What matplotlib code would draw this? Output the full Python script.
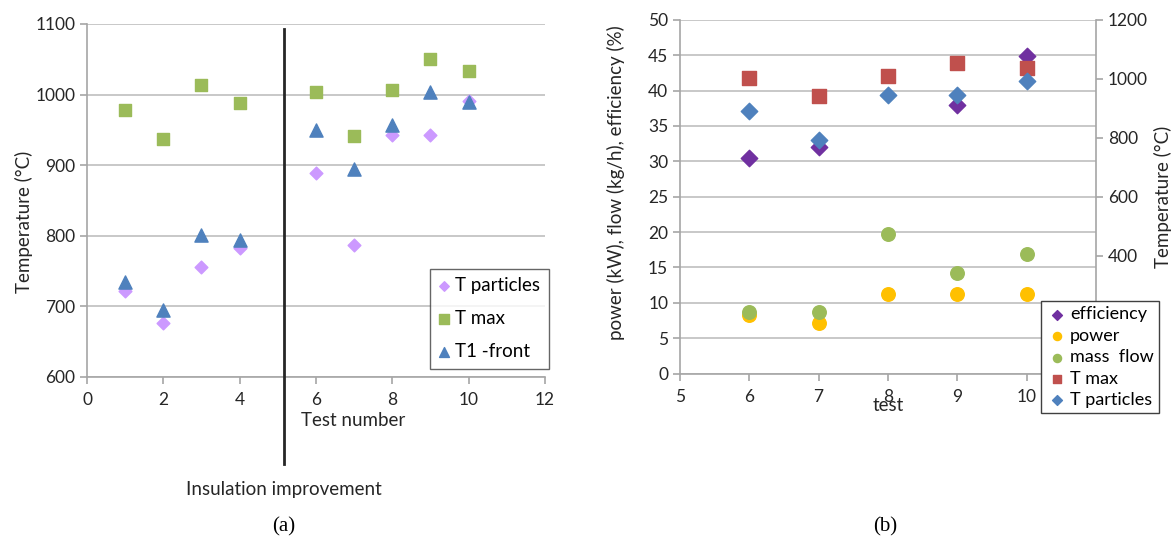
import numpy as np
import matplotlib.pyplot as plt

plt.rcParams['font.family'] = ['Lato', 'DejaVu Sans']

# (a) 温度 vs 试验编号
tests_a = [1, 2, 3, 4, 6, 7, 8, 9, 10]
t_particles = [722, 677, 756, 783, 889, 787, 943, 943, 991]
t_max = [978, 937, 1013, 988, 1003, 942, 1006, 1050, 1033]
t1_front = [735, 695, 801, 794, 950, 894, 957, 1003, 990]

# (b) 试验 6-10
tests_b = [6, 7, 8, 9, 10]
efficiency = [30.4, 32.0, np.nan, 37.9, 44.9]
power = [8.3, 7.1, 11.3, 11.3, 11.3]
mass_flow = [8.7, 8.7, 19.7, 14.2, 16.9]
t_max_b = [1003, 942, 1009, 1052, 1035]
t_particles_b = [890, 791, 944, 944, 991]

grid_c = '#c8c8c8'
spine_c = '#a6a6a6'
txt_c = '#262626'
tick_fs = 12.5
lab_fs = 13.5

fig = plt.figure(figsize=(11.71, 5.40), dpi=100)

def style(ax):
    for s in ['top', 'right']:
        ax.spines[s].set_visible(False)
    for s in ['left', 'bottom']:
        ax.spines[s].set_color(spine_c)
        ax.spines[s].set_linewidth(1.2)
    ax.yaxis.grid(True, color=grid_c, linewidth=1.4)
    ax.set_axisbelow(True)
    ax.tick_params(colors=spine_c, labelcolor=txt_c, labelsize=tick_fs, direction='out', length=5, width=1.2)
    ax.tick_params(axis='x', pad=6)

# ---------- (a) ----------
ax1 = fig.add_axes([0.0743, 0.302, 0.3911, 0.6536])
style(ax1)
ax1.scatter(tests_a, t_particles, marker='D', s=42, color='#cc99ff', label='T particles', zorder=3)
ax1.scatter(tests_a, t_max, marker='s', s=80, color='#9bbb59', label='T max', zorder=3)
ax1.scatter(tests_a, t1_front, marker='^', s=90, color='#4f81bd', label='T1 -front', zorder=4)
ax1.set_xlim(0, 12)
ax1.set_ylim(600, 1100)
ax1.set_xticks(range(0, 13, 2))
ax1.set_yticks(range(600, 1101, 100))
ax1.set_xlabel('Test number', fontsize=lab_fs, color=txt_c)
ax1.xaxis.set_label_coords(0.581, -0.1)
ax1.set_ylabel('Temperature (°C)', fontsize=lab_fs, color=txt_c)
ax1.yaxis.set_label_coords(-0.117, 0.44)
ax1.plot([5.15, 5.15], [1093, 477], color='#262626', linewidth=2, clip_on=False, zorder=5)
ax1.text(5.15, 440, 'Insulation improvement', fontsize=lab_fs, color=txt_c,
         ha='center', va='center', clip_on=False)
leg1 = ax1.legend(loc='upper left', bbox_to_anchor=(0.3672, 0.5019), bbox_transform=fig.transFigure,
                  fontsize=13.5, labelspacing=0.85, handlelength=0.6, handletextpad=0.3,
                  borderpad=0.45, fancybox=False, markerscale=0.75, borderaxespad=0)
leg1.get_frame().set_edgecolor('#404040')
leg1.get_frame().set_linewidth(1.0)

# ---------- (b) ----------
ax2 = fig.add_axes([0.5807, 0.308, 0.3553, 0.6555])
style(ax2)
ax3 = ax2.twinx()
for s in ['top', 'left', 'bottom']:
    ax3.spines[s].set_visible(False)
ax3.spines['right'].set_color(spine_c)
ax3.spines['right'].set_linewidth(1.2)
ax3.tick_params(colors=spine_c, labelcolor=txt_c, labelsize=tick_fs, direction='out', length=5, width=1.2)

h_eff = ax2.scatter(tests_b, efficiency, marker='D', s=70, color='#7030a0', label='efficiency', zorder=3)
h_pow = ax2.scatter(tests_b, power, marker='o', s=95, color='#ffc000', label='power', zorder=3)
h_mf = ax2.scatter(tests_b, mass_flow, marker='o', s=95, color='#9bbb59', label='mass  flow', zorder=4)
h_tm = ax3.scatter(tests_b, t_max_b, marker='s', s=95, color='#c0504d', label='T max', zorder=3)
h_tp = ax3.scatter(tests_b, t_particles_b, marker='D', s=70, color='#4f81bd', label='T particles', zorder=4)

ax2.set_xlim(5, 11)
ax2.set_ylim(0, 50)
ax2.set_xticks(range(5, 12))
ax2.set_yticks(range(0, 51, 5))
ax3.set_ylim(0, 1200)
ax3.set_yticks(range(0, 1201, 200))
ax2.set_xlabel('test', fontsize=lab_fs, color=txt_c)
ax2.xaxis.set_label_coords(0.5, -0.065)
ax2.set_ylabel('power (kW), flow (kg/h), efficiency (%)', fontsize=lab_fs, color=txt_c)
ax2.yaxis.set_label_coords(-0.131, 0.54)
ax3.set_ylabel('Temperature (°C)', fontsize=lab_fs, color=txt_c)
ax3.yaxis.set_label_coords(1.138, 0.5)

leg2 = ax3.legend(handles=[h_eff, h_pow, h_mf, h_tm, h_tp], loc='upper left',
                  bbox_to_anchor=(0.889, 0.4426), bbox_transform=fig.transFigure,
                  fontsize=13, labelspacing=0.3, handlelength=1.2, handletextpad=0.1,
                  borderpad=0.3, fancybox=False, markerscale=0.6, borderaxespad=0, framealpha=1)
leg2.get_frame().set_edgecolor('#404040')
leg2.get_frame().set_linewidth(1.0)
leg2.set_zorder(10)

fig.text(284 / 1171, 1 - 527 / 540, '(a)', family='Liberation Serif', fontsize=15, ha='center', va='center')
fig.text(885 / 1171, 1 - 527 / 540, '(b)', family='Liberation Serif', fontsize=15, ha='center', va='center')

fig.savefig('out.png', dpi=100)
